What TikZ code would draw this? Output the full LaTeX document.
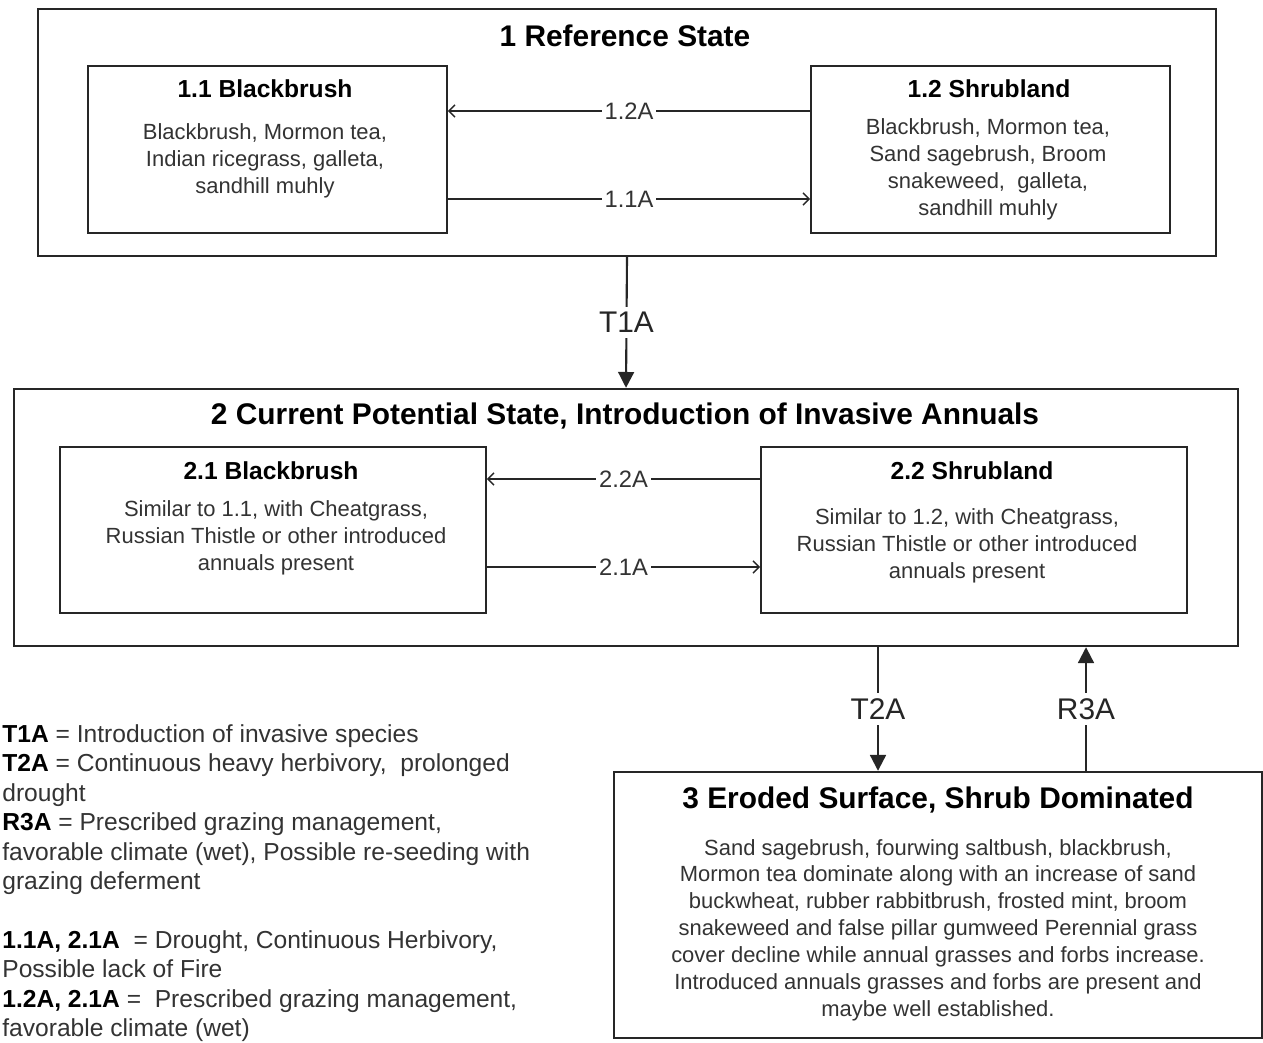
\documentclass[tikz,border=0pt]{standalone}
\usepackage{fontspec}
\setmainfont{Liberation Sans}
\usetikzlibrary{arrows.meta}

\begin{document}
\begin{tikzpicture}[x=0.02cm,y=-0.02cm,inner sep=0,
  statebox/.style={draw=black!85,line width=1.4pt},
  phasebox/.style={draw=black!85,line width=1pt},
  stitle/.style={font=\fontsize{17}{20}\selectfont\bfseries},
  ptitle/.style={font=\fontsize{14}{17}\selectfont\bfseries},
  ptext/.style={font=\fontsize{12.5}{15.3}\selectfont,align=center,text=black!80},
  phaseedge/.style={draw=black!85,line width=0.8pt,-{Straight Barb[length=3.5pt,width=7pt]}},
  trans/.style={draw=black!85,line width=1.2pt,-{Triangle[length=9pt,width=9pt]}},
  slabel/.style={fill=white,inner sep=1.5pt,font=\fontsize{13.5}{16}\selectfont,text=black!80},
  tlabel/.style={fill=white,inner sep=3pt,font=\fontsize{17}{20}\selectfont,text=black!85}]
\useasboundingbox[fill=white] (0,0) rectangle (1263,1043);
%Node Coordinates
\node at (627,132.5) [statebox,minimum width=23.56cm,minimum height=4.94cm] (Ref) {};
\node at (267.5,149.5) [phasebox,minimum width=7.18cm,minimum height=3.34cm] (B11) {};
\node at (990.5,149.5) [phasebox,minimum width=7.18cm,minimum height=3.34cm] (B12) {};
\node at (626,517.5) [statebox,minimum width=24.48cm,minimum height=5.14cm] (Cur) {};
\node at (273,530) [phasebox,minimum width=8.52cm,minimum height=3.32cm] (B21) {};
\node at (974,530) [phasebox,minimum width=8.52cm,minimum height=3.32cm] (B22) {};
\node at (938,905) [statebox,minimum width=12.96cm,minimum height=5.32cm] (Ero) {};
\coordinate (T2Ax) at (878,0);
\coordinate (R3Ax) at (1086,0);
%Node Labels
\node [stitle] at (625,36) (RefT) {1 Reference State};
\node [ptitle] at (265,89) (B11T) {1.1 Blackbrush};
\node [ptext] at (265,161) (B11X) {Blackbrush, Mormon tea,\\Indian ricegrass, galleta,\\sandhill muhly};
\node [ptitle] at (989,89) (B12T) {1.2 Shrubland};
\node [ptext] at (988,169.5) (B12X) {Blackbrush, Mormon tea,\\Sand sagebrush, Broom\\snakeweed,\ \ galleta,\\sandhill muhly};
\node [stitle] at (625,416) (CurT) {2 Current Potential State, Introduction of Invasive Annuals};
\node [ptitle] at (271,471) (B21T) {2.1 Blackbrush};
\node [ptext] at (276,538) (B21X) {Similar to 1.1, with Cheatgrass,\\Russian Thistle or other introduced\\annuals present};
\node [ptitle] at (972,471) (B22T) {2.2 Shrubland};
\node [ptext] at (967,546) (B22X) {Similar to 1.2, with Cheatgrass,\\Russian Thistle or other introduced\\annuals present};
\node [stitle] at (938,800) (EroT) {3 Eroded Surface, Shrub Dominated};
\node [ptext] at (938,930) (EroX) {Sand sagebrush, fourwing saltbush, blackbrush,\\Mormon tea dominate along with an increase of sand\\buckwheat, rubber rabbitbrush, frosted mint, broom\\snakeweed and false pillar gumweed Perennial grass\\cover decline while annual grasses and forbs increase.\\Introduced annuals grasses and forbs are present and\\maybe well established.};
%Legend
\node [anchor=north west,align=left,font=\fontsize{14}{16.8}\selectfont,text=black!80] at (2,724) (Leg) {%
\textcolor{black}{\bfseries T1A} = Introduction of invasive species\\
\textcolor{black}{\bfseries T2A} = Continuous heavy herbivory,\ \ prolonged\\
drought\\
\textcolor{black}{\bfseries R3A} = Prescribed grazing management,\\
favorable climate (wet), Possible re-seeding with\\
grazing deferment\\[16.5pt]
\textcolor{black}{\bfseries 1.1A, 2.1A}\ \ = Drought, Continuous Herbivory,\\
Possible lack of Fire\\
\textcolor{black}{\bfseries 1.2A, 2.1A} =\ \ Prescribed grazing management,\\
favorable climate (wet)};
%Connections
\draw [phaseedge] ([yshift=0.77cm]B12.west) -- ([yshift=0.77cm]B11.east) node [midway,slabel] {1.2A};
\draw [phaseedge] ([yshift=-0.99cm]B11.east) -- ([yshift=-0.99cm]B12.west) node [midway,slabel] {1.1A};
\draw [phaseedge] ([yshift=1.02cm]B22.west) -- ([yshift=1.02cm]B21.east) node [midway,slabel] {2.2A};
\draw [phaseedge] ([yshift=-0.74cm]B21.east) -- ([yshift=-0.74cm]B22.west) node [midway,slabel] {2.1A};
\draw [trans] (Ref.south) -- (Cur.north) node [midway,tlabel] {T1A};
\draw [trans] (Cur.south -| T2Ax) -- (Ero.north -| T2Ax) node [midway,tlabel] {T2A};
\draw [trans] (Ero.north -| R3Ax) -- (Cur.south -| R3Ax) node [midway,tlabel] {R3A};
\end{tikzpicture}
\end{document}
